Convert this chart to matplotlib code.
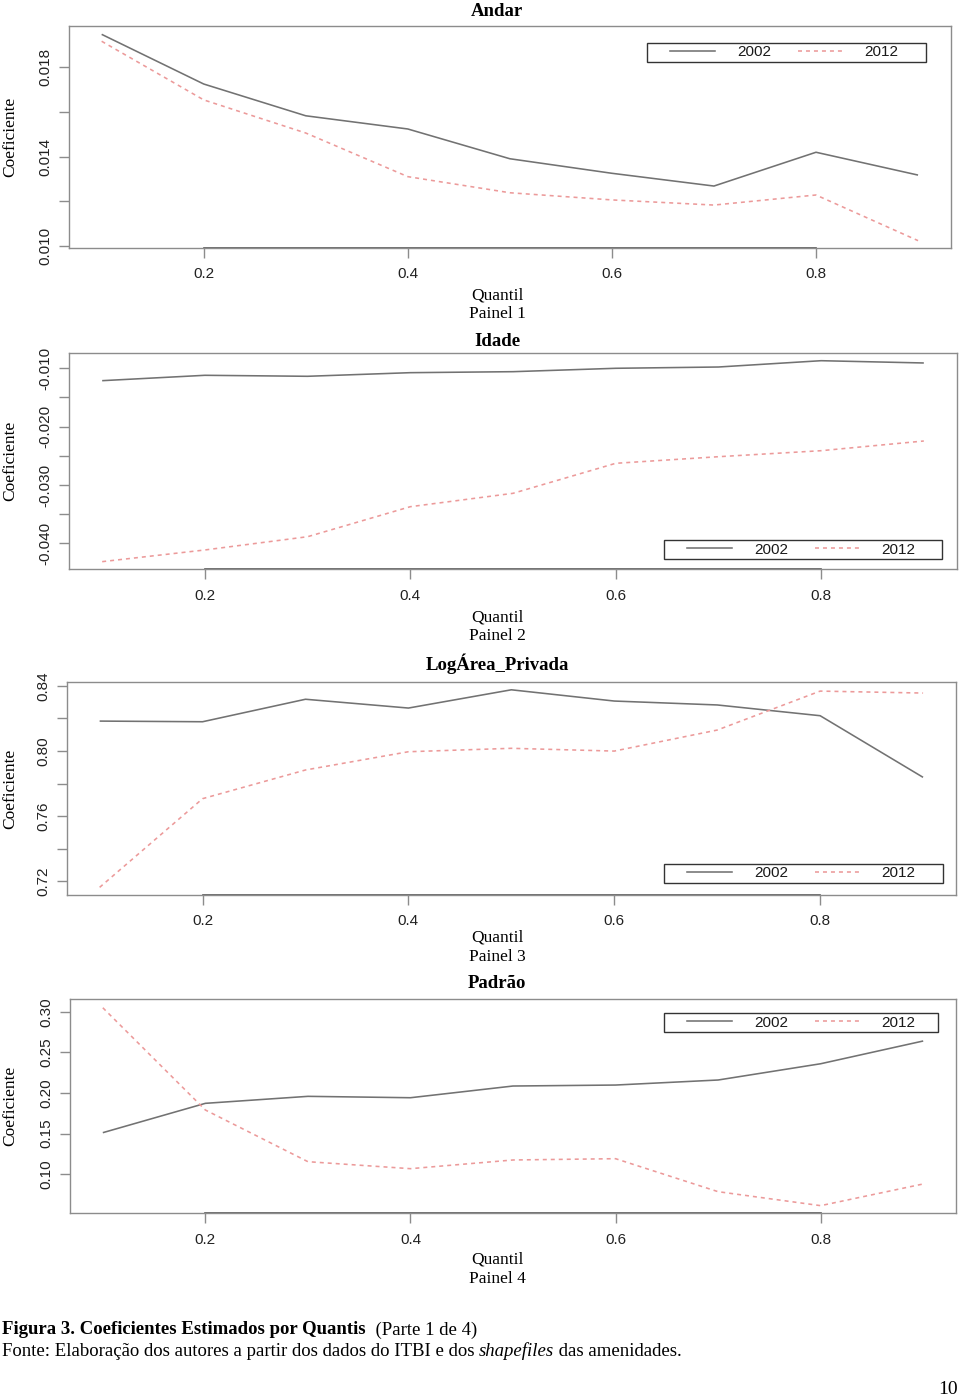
import matplotlib
matplotlib.use("Agg")
import matplotlib.pyplot as plt
from matplotlib.patches import Rectangle
from matplotlib.lines import Line2D

# ---------------- data ----------------
quantis = [0.1, 0.2, 0.3, 0.4, 0.5, 0.6, 0.7, 0.8, 0.9]
series_labels = ["2002", "2012"]
panel_titles = ["Andar", "Idade", "LogÁrea_Privada", "Padrão"]
panel_names = ["Painel 1", "Painel 2", "Painel 3", "Painel 4"]

andar_2002 = [0.01946, 0.01724, 0.01582, 0.01523, 0.01390, 0.01325, 0.01268, 0.01419, 0.01317]
andar_2012 = [0.01915, 0.01653, 0.01505, 0.01310, 0.01238, 0.01206, 0.01183, 0.01228, 0.01024]

idade_2002 = [-0.01212, -0.01120, -0.01137, -0.01075, -0.01058, -0.01000, -0.00978, -0.00870, -0.00909]
idade_2012 = [-0.04311, -0.04111, -0.03884, -0.03370, -0.03141, -0.02627, -0.02514, -0.02411, -0.02245]

area_2002 = [0.8183, 0.8179, 0.8317, 0.8263, 0.8375, 0.8306, 0.8282, 0.8216, 0.7838]
area_2012 = [0.7163, 0.7707, 0.7883, 0.7995, 0.8016, 0.7999, 0.8128, 0.8367, 0.8355]

padrao_2002 = [0.1512, 0.1873, 0.1959, 0.1942, 0.2086, 0.2098, 0.2160, 0.2360, 0.2640]
padrao_2012 = [0.3049, 0.1791, 0.1155, 0.1069, 0.1176, 0.1192, 0.0786, 0.0614, 0.0881]

x_ticks = [0.2, 0.4, 0.6, 0.8]
y_ticks = [
    [0.010, 0.012, 0.014, 0.016, 0.018],
    [-0.040, -0.035, -0.030, -0.025, -0.020, -0.015, -0.010],
    [0.72, 0.74, 0.76, 0.78, 0.80, 0.82, 0.84],
    [0.10, 0.15, 0.20, 0.25, 0.30],
]
y_labeled = [
    [0.010, 0.014, 0.018],
    [-0.040, -0.030, -0.020, -0.010],
    [0.72, 0.76, 0.80, 0.84],
    [0.10, 0.15, 0.20, 0.25, 0.30],
]
y_fmt = ["{:.3f}", "{:.3f}", "{:.2f}", "{:.2f}"]

data = [(andar_2002, andar_2012), (idade_2002, idade_2012),
        (area_2002, area_2012), (padrao_2002, padrao_2012)]

# ---------------- layout (pixels) ----------------
W, H = 960, 1400
# left, right, top, bottom in pixels
boxes = [(69, 950.7, 25.7, 248), (69.3, 956.7, 352.7, 569.3),
         (66.7, 956, 682.3, 895), (70, 956, 999.3, 1213.3)]
ylims = [(0.009911, 0.019846), (-0.04442, -0.00733), (0.7116, 0.8421), (0.0520, 0.3153)]
xlim = (0.068, 0.932)
# legend frame (pixels): left, right, top, bottom
leg_boxes = [(647.3, 925.7, 43, 62), (664.3, 942.3, 540, 559),
             (664.3, 943, 864, 882.7), (664.3, 938, 1013.3, 1032.3)]
title_y = [11, 341, 664, 984]
quantil_y = [295, 617, 938, 1260]
painel_y = [314, 636, 957, 1279]

GRAY = "#727272"
PINK = "#ec9a9a"
FRAME = "#8c8c8c"
SANS = "Liberation Sans"
SERIF = "Liberation Serif"

fig = plt.figure(figsize=(W / 100, H / 100), dpi=100)
fig.patch.set_facecolor("white")

def fx(px):
    return px / W

def fy(py):
    return 1 - py / H

for i in range(4):
    l, r, t, b = boxes[i]
    ax = fig.add_axes([fx(l), fy(b), fx(r) - fx(l), (b - t) / H])
    s02, s12 = data[i]
    ax.plot(quantis, s02, color=GRAY, lw=1.15, solid_capstyle="butt")
    ax.plot(quantis, s12, color=PINK, lw=1.15, dashes=(2.5, 2.5))
    ax.set_xlim(*xlim)
    ax.set_ylim(*ylims[i])
    for sp in ax.spines.values():
        sp.set_color(FRAME)
        sp.set_linewidth(1.0)
    ax.set_xticks(x_ticks)
    ax.set_xticklabels([f"{v:.1f}" for v in x_ticks], fontfamily=SANS,
                       fontsize=11, color="#222222")
    ax.set_yticks(y_ticks[i])
    labs = [y_fmt[i].format(v) if any(abs(v - u) < 1e-9 for u in y_labeled[i]) else ""
            for v in y_ticks[i]]
    ax.set_yticklabels(labs, fontfamily=SANS, fontsize=11, color="#222222",
                       rotation=90, va="center")
    ax.tick_params(axis="both", direction="out", length=7, width=1.0, color=FRAME)
    ax.tick_params(axis="x", pad=7)
    ax.tick_params(axis="y", pad=5)
    # R-style axis line between outer ticks
    ax.plot([x_ticks[0], x_ticks[-1]], [0, 0], transform=ax.get_xaxis_transform(),
            color="#555555", lw=1.2, clip_on=False)

    # legend: frame + entries
    ll, lr, lt, lb = leg_boxes[i]
    ax_w = r - l
    ax_h = b - t
    fx0 = (ll - l) / ax_w
    fx1 = (lr - l) / ax_w
    fy0 = (b - lb) / ax_h
    fy1 = (b - lt) / ax_h
    ax.add_patch(Rectangle((fx0, fy0), fx1 - fx0, fy1 - fy0, transform=ax.transAxes,
                           facecolor="white", edgecolor="#333333", lw=1.0, zorder=5))
    handles = [Line2D([], [], color=GRAY, lw=1.15),
               Line2D([], [], color=PINK, lw=1.15, dashes=(2.5, 2.5))]
    hx = (ll + 23 - l) / ax_w
    leg = ax.legend(handles, series_labels, ncols=2, frameon=False,
                    loc="center left", bbox_to_anchor=(hx, (fy0 + fy1) / 2),
                    borderpad=0, borderaxespad=0, handlelength=2.95,
                    handletextpad=1.42, columnspacing=1.75,
                    prop={"family": SANS, "size": 11})
    for txt in leg.get_texts():
        txt.set_color("#1a1a1a")
    leg.set_zorder(6)

    fig.text(fx(497), fy(title_y[i]), panel_titles[i], ha="center", va="center",
             fontfamily=SERIF, fontweight="bold", fontsize=13.5)
    fig.text(fx(497), fy(quantil_y[i]), "Quantil", ha="center", va="center",
             fontfamily=SERIF, fontsize=12.5)
    fig.text(fx(497), fy(painel_y[i]), panel_names[i], ha="center", va="center",
             fontfamily=SERIF, fontsize=12.5)
    fig.text(fx(10), fy((t + b) / 2), "Coeficiente", ha="center", va="center",
             rotation=90, fontfamily=SERIF, fontsize=12.5)

# ---------------- caption ----------------
fig.canvas.draw()
renderer = fig.canvas.get_renderer()

def run_text(x_px, y_px, pieces):
    x = x_px
    for s, kw in pieces:
        t = fig.text(fx(x), fy(y_px), s, ha="left", va="center", fontfamily=SERIF,
                     fontsize=13.5, **kw)
        bb = t.get_window_extent(renderer=renderer)
        x += bb.width

run_text(2, 1330, [("Figura 3. Coeficientes Estimados por Quantis", {"fontweight": "bold"}),
                   ("  (Parte 1 de 4)", {})])
run_text(2, 1351, [("Fonte: Elaboração dos autores a partir dos dados do ITBI e dos ", {}),
                   ("shapefiles", {"fontstyle": "italic"}),
                   (" das amenidades.", {})])
fig.text(fx(958), fy(1390), "10", ha="right", va="center", fontfamily=SERIF, fontsize=14)

fig.savefig("out.png", dpi=100, facecolor="white")
